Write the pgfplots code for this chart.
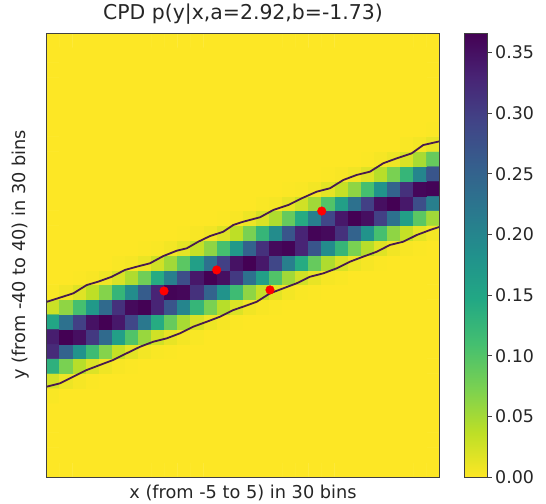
\documentclass[border=0pt]{standalone}
\usepackage{pgfplots}
\pgfplotsset{compat=1.18}
\usepackage{fontspec}
\setmainfont{DejaVu Sans}
\definecolor{ctr}{RGB}{72,26,78}
\definecolor{txt}{RGB}{38,38,38}
\begin{document}
\begin{tikzpicture}
\useasboundingbox (0,0) rectangle (546bp,504bp);
\begin{axis}[
  at={(46.5bp,27bp)}, anchor=south west,
  width=393bp, height=444bp, scale only axis,
  xmin=-0.5, xmax=29.5, ymin=-29.5, ymax=0.5,
  y dir=reverse,
  xtick=\empty, ytick=\empty,
  axis line style={draw=black!75, line width=0.9bp},
  axis on top,
  title={CPD p(y|x,a=2.92,b=-1.73)},
  title style={at={(0.5,1)}, anchor=base, yshift=8bp, font=\fontsize{20.5}{24}\selectfont, text=txt},
  xlabel={x (from -5 to 5) in 30 bins},
  xlabel style={at={(0.5,0)}, anchor=base, yshift=-21.5bp, font=\fontsize{17.8}{21}\selectfont, text=txt},
  ylabel={y (from -40 to 40) in 30 bins},
  ylabel style={at={(0,0.5)}, anchor=base, yshift=21.5bp, font=\fontsize{17.8}{21}\selectfont, text=txt},
  colormap={rviridis}{rgb255=(253,231,37) rgb255=(189,223,38) rgb255=(122,209,81) rgb255=(68,191,112) rgb255=(34,168,132) rgb255=(33,145,140) rgb255=(42,120,142) rgb255=(53,95,141) rgb255=(65,68,135) rgb255=(72,36,117) rgb255=(68,1,84)},
  point meta min=0, point meta max=0.366,
  colorbar,
  colorbar/width=23bp,
  colorbar shift/.style={xshift=24.5bp},
  colorbar style={
    at={(parent axis.north east)}, anchor=north west,
    width=23bp,
    ytick={0,0.05,0.1,0.15,0.2,0.25,0.3,0.35},
    yticklabel style={font=\fontsize{17.5}{20}\selectfont, text=txt,
      /pgf/number format/fixed, /pgf/number format/fixed zerofill,
      /pgf/number format/precision=2, /pgf/number format/assume math mode=true},
    tick align=outside,
    ytick pos=right,
    major tick length=4.7bp,
    tick style={draw=black!75, line width=0.9bp},
    axis line style={draw=black!75, line width=0.9bp},
  },
]
\addplot[matrix plot, mesh/rows=30, mesh/cols=30, mesh/ordering=y varies, point meta=explicit]
table[x=x, y expr=-\thisrow{y}, meta=z, row sep=\\] {
x y z\\
0 0 0\\0 1 0\\0 2 0\\0 3 0\\0 4 0\\0 5 0.002\\0 6 0.024\\0 7 0.133\\0 8 0.322\\0 9 0.336\\0 10 0.151\\0 11 0.029\\0 12 0.002\\0 13 0\\0 14 0\\0 15 0\\0 16 0\\0 17 0\\0 18 0\\0 19 0\\0 20 0\\0 21 0\\0 22 0\\0 23 0\\0 24 0\\0 25 0\\0 26 0\\0 27 0\\0 28 0\\0 29 0\\
1 0 0\\1 1 0\\1 2 0\\1 3 0\\1 4 0\\1 5 0\\1 6 0.009\\1 7 0.074\\1 8 0.250\\1 9 0.366\\1 10 0.230\\1 11 0.062\\1 12 0.007\\1 13 0\\1 14 0\\1 15 0\\1 16 0\\1 17 0\\1 18 0\\1 19 0\\1 20 0\\1 21 0\\1 22 0\\1 23 0\\1 24 0\\1 25 0\\1 26 0\\1 27 0\\1 28 0\\1 29 0\\
2 0 0\\2 1 0\\2 2 0\\2 3 0\\2 4 0\\2 5 0\\2 6 0.004\\2 7 0.040\\2 8 0.180\\2 9 0.352\\2 10 0.298\\2 11 0.109\\2 12 0.017\\2 13 0.001\\2 14 0\\2 15 0\\2 16 0\\2 17 0\\2 18 0\\2 19 0\\2 20 0\\2 21 0\\2 22 0\\2 23 0\\2 24 0\\2 25 0\\2 26 0\\2 27 0\\2 28 0\\2 29 0\\
3 0 0\\3 1 0\\3 2 0\\3 3 0\\3 4 0\\3 5 0\\3 6 0.001\\3 7 0.019\\3 8 0.116\\3 9 0.306\\3 10 0.348\\3 11 0.170\\3 12 0.036\\3 13 0.003\\3 14 0\\3 15 0\\3 16 0\\3 17 0\\3 18 0\\3 19 0\\3 20 0\\3 21 0\\3 22 0\\3 23 0\\3 24 0\\3 25 0\\3 26 0\\3 27 0\\3 28 0\\3 29 0\\
4 0 0\\4 1 0\\4 2 0\\4 3 0\\4 4 0\\4 5 0\\4 6 0\\4 7 0.008\\4 8 0.068\\4 9 0.240\\4 10 0.366\\4 11 0.240\\4 12 0.068\\4 13 0.008\\4 14 0\\4 15 0\\4 16 0\\4 17 0\\4 18 0\\4 19 0\\4 20 0\\4 21 0\\4 22 0\\4 23 0\\4 24 0\\4 25 0\\4 26 0\\4 27 0\\4 28 0\\4 29 0\\
5 0 0\\5 1 0\\5 2 0\\5 3 0\\5 4 0\\5 5 0\\5 6 0\\5 7 0.003\\5 8 0.032\\5 9 0.161\\5 10 0.342\\5 11 0.315\\5 12 0.125\\5 13 0.021\\5 14 0.002\\5 15 0\\5 16 0\\5 17 0\\5 18 0\\5 19 0\\5 20 0\\5 21 0\\5 22 0\\5 23 0\\5 24 0\\5 25 0\\5 26 0\\5 27 0\\5 28 0\\5 29 0\\
6 0 0\\6 1 0\\6 2 0\\6 3 0\\6 4 0\\6 5 0\\6 6 0\\6 7 0.001\\6 8 0.015\\6 9 0.101\\6 10 0.289\\6 11 0.357\\6 12 0.190\\6 13 0.044\\6 14 0.004\\6 15 0\\6 16 0\\6 17 0\\6 18 0\\6 19 0\\6 20 0\\6 21 0\\6 22 0\\6 23 0\\6 24 0\\6 25 0\\6 26 0\\6 27 0\\6 28 0\\6 29 0\\
7 0 0\\7 1 0\\7 2 0\\7 3 0\\7 4 0\\7 5 0\\7 6 0\\7 7 0\\7 8 0.006\\7 9 0.057\\7 10 0.220\\7 11 0.365\\7 12 0.260\\7 13 0.080\\7 14 0.011\\7 15 0.001\\7 16 0\\7 17 0\\7 18 0\\7 19 0\\7 20 0\\7 21 0\\7 22 0\\7 23 0\\7 24 0\\7 25 0\\7 26 0\\7 27 0\\7 28 0\\7 29 0\\
8 0 0\\8 1 0\\8 2 0\\8 3 0\\8 4 0\\8 5 0\\8 6 0\\8 7 0\\8 8 0.002\\8 9 0.026\\8 10 0.142\\8 11 0.330\\8 12 0.330\\8 13 0.142\\8 14 0.026\\8 15 0.002\\8 16 0\\8 17 0\\8 18 0\\8 19 0\\8 20 0\\8 21 0\\8 22 0\\8 23 0\\8 24 0\\8 25 0\\8 26 0\\8 27 0\\8 28 0\\8 29 0\\
9 0 0\\9 1 0\\9 2 0\\9 3 0\\9 4 0\\9 5 0\\9 6 0\\9 7 0\\9 8 0.001\\9 9 0.012\\9 10 0.087\\9 11 0.270\\9 12 0.363\\9 13 0.210\\9 14 0.052\\9 15 0.006\\9 16 0\\9 17 0\\9 18 0\\9 19 0\\9 20 0\\9 21 0\\9 22 0\\9 23 0\\9 24 0\\9 25 0\\9 26 0\\9 27 0\\9 28 0\\9 29 0\\
10 0 0\\10 1 0\\10 2 0\\10 3 0\\10 4 0\\10 5 0\\10 6 0\\10 7 0\\10 8 0\\10 9 0.005\\10 10 0.048\\10 11 0.200\\10 12 0.360\\10 13 0.280\\10 14 0.094\\10 15 0.014\\10 16 0.001\\10 17 0\\10 18 0\\10 19 0\\10 20 0\\10 21 0\\10 22 0\\10 23 0\\10 24 0\\10 25 0\\10 26 0\\10 27 0\\10 28 0\\10 29 0\\
11 0 0\\11 1 0\\11 2 0\\11 3 0\\11 4 0\\11 5 0\\11 6 0\\11 7 0\\11 8 0\\11 9 0.002\\11 10 0.021\\11 11 0.125\\11 12 0.315\\11 13 0.342\\11 14 0.161\\11 15 0.032\\11 16 0.003\\11 17 0\\11 18 0\\11 19 0\\11 20 0\\11 21 0\\11 22 0\\11 23 0\\11 24 0\\11 25 0\\11 26 0\\11 27 0\\11 28 0\\11 29 0\\
12 0 0\\12 1 0\\12 2 0\\12 3 0\\12 4 0\\12 5 0\\12 6 0\\12 7 0\\12 8 0\\12 9 0\\12 10 0.009\\12 11 0.074\\12 12 0.250\\12 13 0.366\\12 14 0.230\\12 15 0.062\\12 16 0.007\\12 17 0\\12 18 0\\12 19 0\\12 20 0\\12 21 0\\12 22 0\\12 23 0\\12 24 0\\12 25 0\\12 26 0\\12 27 0\\12 28 0\\12 29 0\\
13 0 0\\13 1 0\\13 2 0\\13 3 0\\13 4 0\\13 5 0\\13 6 0\\13 7 0\\13 8 0\\13 9 0\\13 10 0.004\\13 11 0.040\\13 12 0.180\\13 13 0.352\\13 14 0.298\\13 15 0.109\\13 16 0.017\\13 17 0.001\\13 18 0\\13 19 0\\13 20 0\\13 21 0\\13 22 0\\13 23 0\\13 24 0\\13 25 0\\13 26 0\\13 27 0\\13 28 0\\13 29 0\\
14 0 0\\14 1 0\\14 2 0\\14 3 0\\14 4 0\\14 5 0\\14 6 0\\14 7 0\\14 8 0\\14 9 0\\14 10 0.001\\14 11 0.019\\14 12 0.116\\14 13 0.306\\14 14 0.348\\14 15 0.170\\14 16 0.036\\14 17 0.003\\14 18 0\\14 19 0\\14 20 0\\14 21 0\\14 22 0\\14 23 0\\14 24 0\\14 25 0\\14 26 0\\14 27 0\\14 28 0\\14 29 0\\
15 0 0\\15 1 0\\15 2 0\\15 3 0\\15 4 0\\15 5 0\\15 6 0\\15 7 0\\15 8 0\\15 9 0\\15 10 0\\15 11 0.007\\15 12 0.062\\15 13 0.230\\15 14 0.366\\15 15 0.250\\15 16 0.074\\15 17 0.009\\15 18 0\\15 19 0\\15 20 0\\15 21 0\\15 22 0\\15 23 0\\15 24 0\\15 25 0\\15 26 0\\15 27 0\\15 28 0\\15 29 0\\
16 0 0\\16 1 0\\16 2 0\\16 3 0\\16 4 0\\16 5 0\\16 6 0\\16 7 0\\16 8 0\\16 9 0\\16 10 0\\16 11 0.003\\16 12 0.032\\16 13 0.161\\16 14 0.342\\16 15 0.315\\16 16 0.125\\16 17 0.021\\16 18 0.002\\16 19 0\\16 20 0\\16 21 0\\16 22 0\\16 23 0\\16 24 0\\16 25 0\\16 26 0\\16 27 0\\16 28 0\\16 29 0\\
17 0 0\\17 1 0\\17 2 0\\17 3 0\\17 4 0\\17 5 0\\17 6 0\\17 7 0\\17 8 0\\17 9 0\\17 10 0\\17 11 0.001\\17 12 0.015\\17 13 0.101\\17 14 0.289\\17 15 0.357\\17 16 0.190\\17 17 0.044\\17 18 0.004\\17 19 0\\17 20 0\\17 21 0\\17 22 0\\17 23 0\\17 24 0\\17 25 0\\17 26 0\\17 27 0\\17 28 0\\17 29 0\\
18 0 0\\18 1 0\\18 2 0\\18 3 0\\18 4 0\\18 5 0\\18 6 0\\18 7 0\\18 8 0\\18 9 0\\18 10 0\\18 11 0\\18 12 0.006\\18 13 0.052\\18 14 0.210\\18 15 0.363\\18 16 0.270\\18 17 0.087\\18 18 0.012\\18 19 0.001\\18 20 0\\18 21 0\\18 22 0\\18 23 0\\18 24 0\\18 25 0\\18 26 0\\18 27 0\\18 28 0\\18 29 0\\
19 0 0\\19 1 0\\19 2 0\\19 3 0\\19 4 0\\19 5 0\\19 6 0\\19 7 0\\19 8 0\\19 9 0\\19 10 0\\19 11 0\\19 12 0.002\\19 13 0.026\\19 14 0.142\\19 15 0.330\\19 16 0.330\\19 17 0.142\\19 18 0.026\\19 19 0.002\\19 20 0\\19 21 0\\19 22 0\\19 23 0\\19 24 0\\19 25 0\\19 26 0\\19 27 0\\19 28 0\\19 29 0\\
20 0 0\\20 1 0\\20 2 0\\20 3 0\\20 4 0\\20 5 0\\20 6 0\\20 7 0\\20 8 0\\20 9 0\\20 10 0\\20 11 0\\20 12 0.001\\20 13 0.012\\20 14 0.087\\20 15 0.270\\20 16 0.363\\20 17 0.210\\20 18 0.052\\20 19 0.006\\20 20 0\\20 21 0\\20 22 0\\20 23 0\\20 24 0\\20 25 0\\20 26 0\\20 27 0\\20 28 0\\20 29 0\\
21 0 0\\21 1 0\\21 2 0\\21 3 0\\21 4 0\\21 5 0\\21 6 0\\21 7 0\\21 8 0\\21 9 0\\21 10 0\\21 11 0\\21 12 0\\21 13 0.004\\21 14 0.044\\21 15 0.190\\21 16 0.357\\21 17 0.289\\21 18 0.101\\21 19 0.015\\21 20 0.001\\21 21 0\\21 22 0\\21 23 0\\21 24 0\\21 25 0\\21 26 0\\21 27 0\\21 28 0\\21 29 0\\
22 0 0\\22 1 0\\22 2 0\\22 3 0\\22 4 0\\22 5 0\\22 6 0\\22 7 0\\22 8 0\\22 9 0\\22 10 0\\22 11 0\\22 12 0\\22 13 0.002\\22 14 0.021\\22 15 0.125\\22 16 0.315\\22 17 0.342\\22 18 0.161\\22 19 0.032\\22 20 0.003\\22 21 0\\22 22 0\\22 23 0\\22 24 0\\22 25 0\\22 26 0\\22 27 0\\22 28 0\\22 29 0\\
23 0 0\\23 1 0\\23 2 0\\23 3 0\\23 4 0\\23 5 0\\23 6 0\\23 7 0\\23 8 0\\23 9 0\\23 10 0\\23 11 0\\23 12 0\\23 13 0\\23 14 0.009\\23 15 0.074\\23 16 0.250\\23 17 0.366\\23 18 0.230\\23 19 0.062\\23 20 0.007\\23 21 0\\23 22 0\\23 23 0\\23 24 0\\23 25 0\\23 26 0\\23 27 0\\23 28 0\\23 29 0\\
24 0 0\\24 1 0\\24 2 0\\24 3 0\\24 4 0\\24 5 0\\24 6 0\\24 7 0\\24 8 0\\24 9 0\\24 10 0\\24 11 0\\24 12 0\\24 13 0\\24 14 0.004\\24 15 0.040\\24 16 0.180\\24 17 0.352\\24 18 0.298\\24 19 0.109\\24 20 0.017\\24 21 0.001\\24 22 0\\24 23 0\\24 24 0\\24 25 0\\24 26 0\\24 27 0\\24 28 0\\24 29 0\\
25 0 0\\25 1 0\\25 2 0\\25 3 0\\25 4 0\\25 5 0\\25 6 0\\25 7 0\\25 8 0\\25 9 0\\25 10 0\\25 11 0\\25 12 0\\25 13 0\\25 14 0.001\\25 15 0.017\\25 16 0.109\\25 17 0.298\\25 18 0.352\\25 19 0.180\\25 20 0.040\\25 21 0.004\\25 22 0\\25 23 0\\25 24 0\\25 25 0\\25 26 0\\25 27 0\\25 28 0\\25 29 0\\
26 0 0\\26 1 0\\26 2 0\\26 3 0\\26 4 0\\26 5 0\\26 6 0\\26 7 0\\26 8 0\\26 9 0\\26 10 0\\26 11 0\\26 12 0\\26 13 0\\26 14 0\\26 15 0.007\\26 16 0.062\\26 17 0.230\\26 18 0.366\\26 19 0.250\\26 20 0.074\\26 21 0.009\\26 22 0\\26 23 0\\26 24 0\\26 25 0\\26 26 0\\26 27 0\\26 28 0\\26 29 0\\
27 0 0\\27 1 0\\27 2 0\\27 3 0\\27 4 0\\27 5 0\\27 6 0\\27 7 0\\27 8 0\\27 9 0\\27 10 0\\27 11 0\\27 12 0\\27 13 0\\27 14 0\\27 15 0.003\\27 16 0.032\\27 17 0.161\\27 18 0.342\\27 19 0.315\\27 20 0.125\\27 21 0.021\\27 22 0.002\\27 23 0\\27 24 0\\27 25 0\\27 26 0\\27 27 0\\27 28 0\\27 29 0\\
28 0 0\\28 1 0\\28 2 0\\28 3 0\\28 4 0\\28 5 0\\28 6 0\\28 7 0\\28 8 0\\28 9 0\\28 10 0\\28 11 0\\28 12 0\\28 13 0\\28 14 0\\28 15 0.001\\28 16 0.014\\28 17 0.094\\28 18 0.280\\28 19 0.360\\28 20 0.200\\28 21 0.048\\28 22 0.005\\28 23 0\\28 24 0\\28 25 0\\28 26 0\\28 27 0\\28 28 0\\28 29 0\\
29 0 0\\29 1 0\\29 2 0\\29 3 0\\29 4 0\\29 5 0\\29 6 0\\29 7 0\\29 8 0\\29 9 0\\29 10 0\\29 11 0\\29 12 0\\29 13 0\\29 14 0\\29 15 0\\29 16 0.006\\29 17 0.052\\29 18 0.210\\29 19 0.363\\29 20 0.270\\29 21 0.087\\29 22 0.012\\29 23 0.001\\29 24 0\\29 25 0\\29 26 0\\29 27 0\\29 28 0\\29 29 0\\
};
\addplot[ctr, line width=1.8bp] table[x=x, y expr=-\thisrow{y}, row sep=\\] {
x y\\
-0.5 11.33\\1.55 11.91\\2.57 12.47\\3.45 12.70\\4.48 13.03\\5.49 13.49\\6.39 13.71\\7.40 13.94\\8.42 14.43\\9.44 14.79\\10.20 14.95\\11.09 15.40\\11.98 15.78\\12.99 16.07\\13.76 16.53\\14.52 16.75\\15.80 17.05\\16.81 17.54\\17.96 17.88\\18.98 18.33\\20.13 18.78\\21.14 19.01\\22.16 19.57\\23.18 19.91\\24.19 20.13\\25.21 20.70\\26.23 21.03\\27.38 21.37\\28.26 21.93\\29.5 22.18\\
};
\addplot[ctr, line width=1.8bp] table[x=x, y expr=-\thisrow{y}, row sep=\\] {
x y\\
-0.5 5.60\\0.53 5.83\\1.55 6.28\\2.57 6.73\\3.58 7.07\\4.60 7.41\\5.62 7.86\\6.64 8.30\\7.65 8.64\\8.68 8.87\\9.69 9.21\\10.71 9.66\\11.73 9.99\\12.74 10.33\\13.76 10.78\\14.52 11.01\\15.55 11.34\\16.56 11.91\\17.58 12.25\\18.60 12.59\\19.61 13.03\\20.63 13.26\\21.65 13.60\\22.67 14.05\\23.68 14.39\\24.71 14.72\\25.72 15.18\\26.74 15.40\\27.76 15.85\\28.78 16.19\\29.5 16.40\\
};
\addplot[only marks, mark=*, mark size=4.3bp, color=red, mark options={fill=red, draw=red}] table[x=x, y expr=-\thisrow{y}, row sep=\\] {
x y\\
8.47 12.07\\12.49 13.49\\16.56 12.14\\20.51 17.47\\
};
\end{axis}
\end{tikzpicture}
\end{document}
